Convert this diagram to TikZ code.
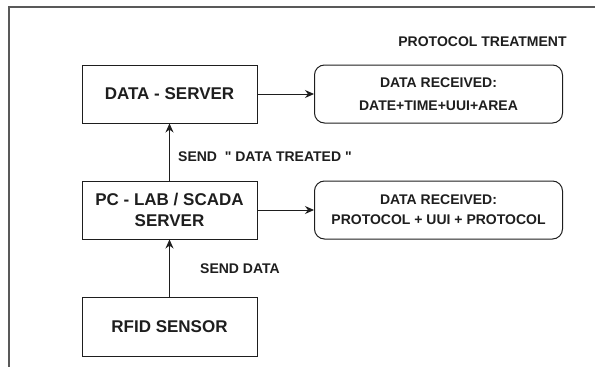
\documentclass[tikz,border=0pt]{standalone}
\usepackage{fontspec}
\setmainfont{Liberation Sans}
% plain family without TeX ligatures, so that " stays a straight quote
\newfontfamily\plainsans{Liberation Sans}
\usetikzlibrary{arrows.meta}
\definecolor{ink}{HTML}{1E1E1E}
\tikzset{
  box/.style={draw=ink, line width=1pt, minimum width=175pt, minimum height=58pt,
    inner sep=0pt, align=center, text=ink, font=\bfseries\fontsize{17}{21}\selectfont},
  infobox/.style={box, rounded corners=10pt, minimum width=248pt,
    font=\bfseries\fontsize{14}{22}\selectfont},
  note/.style={text=ink, inner sep=0pt, font=\bfseries\fontsize{14}{17}\selectfont},
  link/.style={draw=ink, line width=1pt, -{Stealth[length=9pt,width=8pt]}},
  frame/.style={draw=black!65, line width=1.8pt}
}
\begin{document}
\begin{tikzpicture}[x=1pt, y=-1pt]
  \useasboundingbox (0,0) rectangle (595,367);
  % outer page frame (only top and left edges visible)
  \coordinate (fTR) at (600,7);
  \coordinate (fTL) at (9,7);
  \coordinate (fBL) at (9,372);
  \draw[frame] (fTR) -- (fTL) -- (fBL);

  % main blocks
  \node[box] (ds)   at (169.5,94)    {DATA - SERVER};
  \node[box] (pc)   at (169.5,210)   {PC - LAB / SCADA\\SERVER};
  \node[box, minimum height=59pt] (rfid) at (169.5,326.5) {RFID SENSOR};

  % received data blocks
  \node[infobox, font=\bfseries\fontsize{14}{23}\selectfont] (r1) at (438.5,94)
    {DATA RECEIVED:\\DATE+TIME+UUI+AREA};
  \node[infobox, font=\bfseries\fontsize{14}{20}\selectfont] (r2) at (438.5,210)
    {DATA RECEIVED:\\PROTOCOL + UUI + PROTOCOL};

  % labels
  \node[note] (title) at (482.5,42) {PROTOCOL TREATMENT};
  \node[note, anchor=west, font=\plainsans\bfseries\fontsize{14}{17}\selectfont] (lbl1)
    at (178,157) {SEND \ " DATA TREATED "};
  \node[note, anchor=west] (lbl2) at (200,269) {SEND DATA};

  % connectors
  \draw[link] (rfid.north) -- (pc.south);
  \draw[link] (pc.north) -- (ds.south);
  \draw[link] (ds.east) -- (r1.west);
  \draw[link] (pc.east) -- (r2.west);
\end{tikzpicture}
\end{document}
